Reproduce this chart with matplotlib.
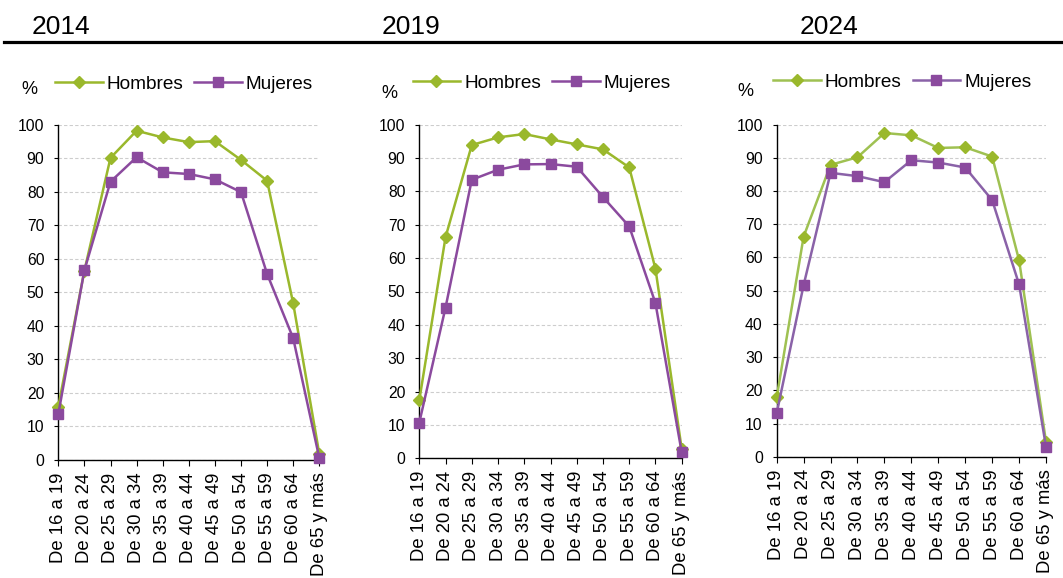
import numpy as np
import matplotlib
matplotlib.use("Agg")
import matplotlib.pyplot as plt

plt.rcParams["font.family"] = ["Liberation Sans", "DejaVu Sans"]

# Tasa de actividad por grupo de edad y sexo (%)
age_groups = ["De 16 a 19", "De 20 a 24", "De 25 a 29", "De 30 a 34", "De 35 a 39",
              "De 40 a 44", "De 45 a 49", "De 50 a 54", "De 55 a 59", "De 60 a 64",
              "De 65 y más"]
years = ["2014", "2019", "2024"]

hombres_2014 = [15.9, 56.5, 90.1, 98.2, 96.2, 94.8, 95.1, 89.5, 83.3, 46.7, 1.8]
mujeres_2014 = [13.7, 56.6, 83.0, 90.3, 85.8, 85.3, 83.7, 79.9, 55.5, 36.3, 0.6]

hombres_2019 = [17.4, 66.3, 93.9, 96.2, 97.2, 95.6, 94.1, 92.6, 87.2, 56.8, 2.8]
mujeres_2019 = [10.7, 45.2, 83.5, 86.5, 88.1, 88.2, 87.4, 78.3, 69.5, 46.5, 1.8]

hombres_2024 = [17.9, 66.3, 87.9, 90.2, 97.5, 96.8, 93.0, 93.2, 90.4, 59.2, 4.5]
mujeres_2024 = [13.1, 51.7, 85.5, 84.5, 82.7, 89.3, 88.6, 87.1, 77.3, 51.9, 3.0]

hombres = [hombres_2014, hombres_2019, hombres_2024]
mujeres = [mujeres_2014, mujeres_2019, mujeres_2024]

GREEN = "#9ab82c"
PURPLE = "#8b4a9e"
line_green = [GREEN, GREEN, "#9fc152"]
line_purple = [PURPLE, PURPLE, "#8a62a8"]

W, H = 1063, 578
fig = plt.figure(figsize=(W / 100, H / 100), dpi=100)

# axes boxes in pixels: left, right, top, bottom
boxes = [(58.3, 319.3, 124.7, 460.0),
         (419.3, 681.7, 124.7, 458.3),
         (776.7, 1046.0, 124.7, 456.7)]
title_x = [32, 382, 800]
pct_pos = [(29, 90), (389, 93), (745, 92)]
legend_pos = [(55, 84), (412.7, 83.3), (773.3, 82)]

x = np.arange(len(age_groups))

for i, (l, r, t, b) in enumerate(boxes):
    ax = fig.add_axes([l / W, 1 - b / H, (r - l) / W, (b - t) / H])
    ax.plot(x, hombres[i], color=line_green[i], lw=1.8, marker="D", ms=5.8,
            mfc=GREEN, mec=GREEN, label="Hombres", clip_on=False, zorder=3)
    ax.plot(x, mujeres[i], color=line_purple[i], lw=1.8, marker="s", ms=6.6,
            mfc=PURPLE, mec=PURPLE, label="Mujeres", clip_on=False, zorder=4)
    ax.set_xlim(0, len(age_groups) - 1)
    ax.set_ylim(0, 100)
    ax.set_yticks(np.arange(0, 101, 10))
    ax.set_xticks(x)
    ax.set_xticklabels(age_groups, rotation=90, fontsize=13.3)
    ax.tick_params(axis="y", labelsize=11.3, length=3, width=0.8, pad=7)
    ax.tick_params(axis="x", length=4, width=0.8, pad=5)
    ax.grid(axis="y", color="#cdcdcd", lw=0.8, ls=(0, (3, 2)))
    ax.set_axisbelow(True)
    for side in ["top", "right"]:
        ax.spines[side].set_visible(False)
    for side in ["left", "bottom"]:
        ax.spines[side].set_linewidth(1.0)
        ax.spines[side].set_color("black")

    lx, ly = legend_pos[i]
    ax.legend(loc="center left", bbox_to_anchor=(lx / W, 1 - ly / H),
              bbox_transform=fig.transFigure, ncol=2, frameon=False,
              fontsize=13.7, borderpad=0, borderaxespad=0, handlelength=2.5,
              handletextpad=0.21, columnspacing=0.58)

    px, py = pct_pos[i]
    fig.text(px / W, 1 - py / H, "%", fontsize=13, ha="center", va="center")
    fig.text(title_x[i] / W, 1 - 27 / H, years[i], fontsize=19, ha="left", va="center")

# rule under the year headings
fig.add_artist(plt.Line2D([4 / W, 1], [1 - 42.3 / H] * 2, color="black", lw=2.3,
                          transform=fig.transFigure))

fig.savefig("out.png", dpi=100)
